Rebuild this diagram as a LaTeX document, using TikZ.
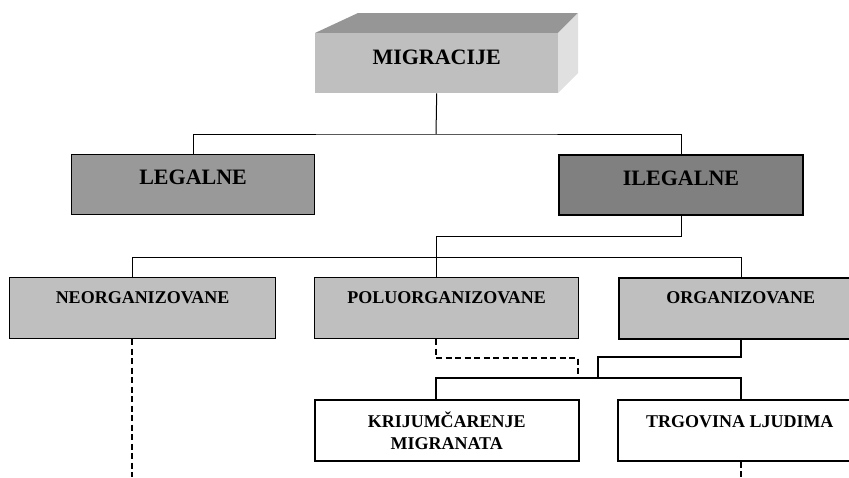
\documentclass[tikz,border=0pt]{standalone}
\usepackage{fontspec}
\setmainfont{Liberation Serif}

\begin{document}
\begin{tikzpicture}[x=1pt,y=-1pt,line cap=butt,line join=miter,
  kutija/.style={anchor=north west,inner sep=0pt,align=center,font=\fontsize{18}{22}\selectfont\bfseries},
  glavna/.style={kutija,font=\fontsize{22}{26}\selectfont\bfseries,text height=30pt,text depth=30pt},
  crtice/.style={line width=1.4pt,dash pattern=on 6pt off 3.5pt}]
  \useasboundingbox (0,0) rectangle (849,477);
  \clip (0,0) rectangle (849,477);
  % vrh: kvadar
  \fill[black!41] (315,33) -- (358,13) -- (578,13) -- (558,33) -- cycle;
  \fill[black!12] (558,33) -- (578,13) -- (578,73) -- (558,93) -- cycle;
  \node[kutija,fill=black!25,minimum width=243pt,minimum height=60pt,
    font=\fontsize{22}{26}\selectfont\bfseries,text height=31pt,text depth=29pt] (mig) at (315,33) {MIGRACIJE};
  % prvi nivo
  \node[glavna,draw,line width=1.2pt,fill=black!40,minimum width=243pt] (leg) at (71,154) {LEGALNE};
  \node[glavna,draw,line width=2pt,fill=black!50,minimum width=244pt] (ileg) at (558,154) {ILEGALNE};
  \coordinate (t1) at (436,134);
  \draw[line width=1pt] (mig.south) -- (t1);
  \draw[line width=1pt] (leg.north) |- (t1) -| (ileg.north);
  % drugi nivo
  \node[kutija,draw,line width=1.2pt,fill=black!25,minimum width=266pt,minimum height=61pt,
    text height=26pt,text depth=35pt] (neo) at (9,277) {NEORGANIZOVANE};
  \node[kutija,draw,line width=1.2pt,fill=black!25,minimum width=264pt,minimum height=61pt,
    text height=26pt,text depth=35pt] (pol) at (314,277) {POLUORGANIZOVANE};
  \node[kutija,draw,line width=1.5pt,fill=black!25,minimum width=244pt,minimum height=61pt,
    text height=26pt,text depth=35pt] (org) at (618,277) {ORGANIZOVANE};
  \coordinate (j1) at (436,236);
  \coordinate (bl) at (132,257);
  \coordinate (br) at (741,257);
  \draw[line width=1pt] (ileg.south) |- (j1) -- (j1 |- pol.north);
  \draw[line width=1pt] (bl |- neo.north) -- (bl) -- (br) -- (br |- org.north);
  % treci nivo
  \node[kutija,draw,line width=1.5pt,fill=white,minimum width=264pt,minimum height=61pt,
    text height=50pt,text depth=11pt] (kri) at (314,399) {KRIJUMČARENJE\\MIGRANATA};
  \node[kutija,draw,line width=1.5pt,fill=white,minimum width=244pt,minimum height=61pt,
    text height=28pt,text depth=33pt] (trg) at (617,399) {TRGOVINA LJUDIMA};
  \coordinate (d1) at (578,358);
  \coordinate (o1) at (598,357);
  \coordinate (b2) at (436,378);
  \coordinate (b3) at (741,378);
  \draw[line width=1.5pt] (br |- org.south) |- (o1) -- (o1 |- b2);
  \draw[line width=1.5pt] (kri.north -| b2) -- (b2) -- (b3) -- (trg.north -| b3);
  % isprekidane linije
  \coordinate (kraj1) at (132,477);
  \coordinate (kraj2) at (741,477);
  \draw[crtice] (bl |- neo.south) -- (kraj1);
  \draw[crtice] (j1 |- pol.south) |- (d1) -- (d1 |- b2);
  \draw[crtice] (b3 |- trg.south) -- (kraj2);
\end{tikzpicture}
\end{document}
